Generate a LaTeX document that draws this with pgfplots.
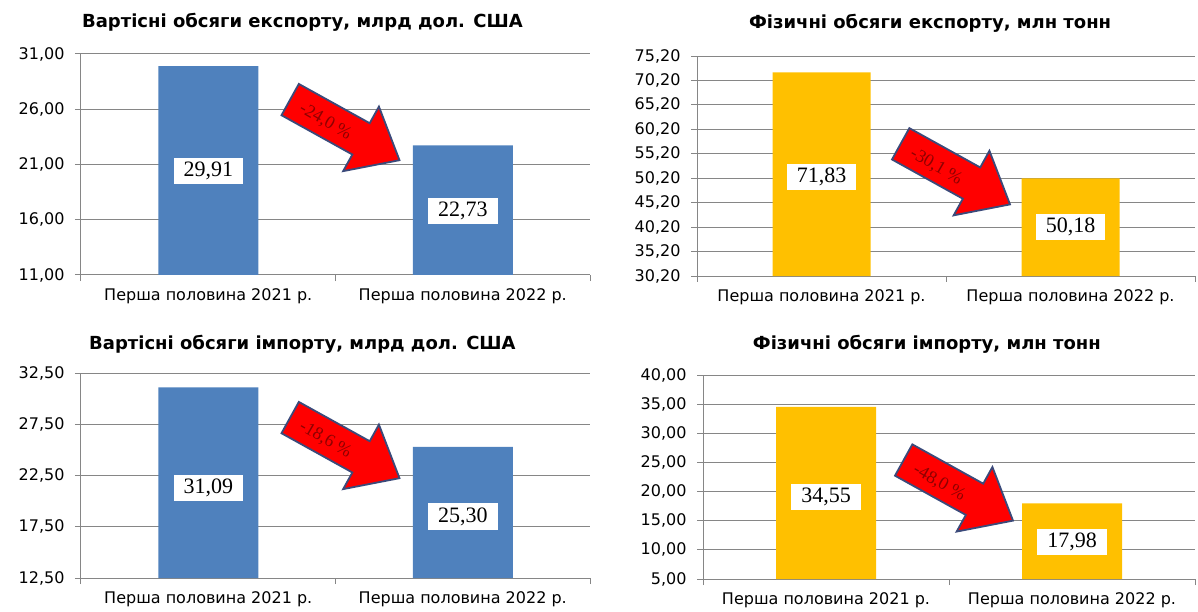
\documentclass[border=0pt]{standalone}
\usepackage{pgfplots}
\pgfplotsset{compat=1.18}
\usetikzlibrary{shapes.arrows}
\usepackage{fontspec}
\setmainfont{DejaVu Sans}
\newfontfamily\tnr{Liberation Serif}
\definecolor{barblue}{HTML}{4F81BD}
\definecolor{bargold}{HTML}{FFC000}
\definecolor{gridg}{HTML}{868686}
\definecolor{arrowedge}{HTML}{3B4A7A}
\definecolor{arrowtext}{HTML}{8E0000}

\pgfplotsset{
  panel/.style={
    scale only axis, anchor=south west,
    xmin=-0.5, xmax=1.5,
    xtick={-0.5,0.5,1.5},
    x tick label as interval,
    xticklabels={Перша половина 2021 р., Перша половина 2022 р.},
    tick align=outside,
    major tick length=6pt,
    axis x line*=bottom, axis y line*=left,
    axis line style={gridg, line width=1pt, -},
    every tick/.style={gridg, line width=1pt},
    ymajorgrids, major grid style={gridg, line width=1pt},
    ybar, bar width=100pt,
    clip=false,
    xticklabel style={font=\fontsize{16}{18}\selectfont, text=black, yshift=-4pt},
    yticklabel style={font=\fontsize{16}{18}\selectfont, text=black,
      /pgf/number format/fixed, /pgf/number format/fixed zerofill,
      /pgf/number format/precision=2, /pgf/number format/use comma,
      /pgf/number format/assume math mode=true, xshift=-7pt},
    title style={font=\bfseries\fontsize{18}{20}\selectfont, anchor=center},
  },
}
\tikzset{
  arr/.style={single arrow, draw=arrowedge, line width=1.8pt, fill=red,
    minimum height=125pt, inner xsep=0pt, inner ysep=17pt,
    single arrow head extend=19pt, single arrow tip angle=80},
  arrlabel/.style={text=arrowtext, font=\tnr\fontsize{18}{20}\selectfont},
  valbox/.style={fill=white, text=black, font=\tnr\fontsize{22}{24}\selectfont, inner xsep=10pt, inner ysep=4pt},
}

\begin{document}
\begin{tikzpicture}
\useasboundingbox (0pt,0pt) rectangle (1198pt,611pt);

% Top-left
\begin{axis}[panel, at={(81pt,336pt)}, width=509pt, height=221pt,
  ymin=11, ymax=31, ytick={11,16,21,26,31},
  title={Вартісні обсяги експорту, млрд дол. США},
  title style={at={(0.435,1)}, yshift=26pt}]
\addplot[fill=barblue, draw=none] coordinates {(0,29.91) (1,22.73)};
\node[arr, rotate=-29] at (axis cs:0.5,24.6) {};
\node[arrlabel, rotate=-30] at (axis cs:0.46,24.9) {-24,0 \%};
\node[valbox] at (axis cs:0,20.45) {29,91};
\node[valbox] at (axis cs:1,16.8) {22,73};
\end{axis}

% Top-right
\begin{axis}[panel, at={(697pt,335pt)}, width=498pt, height=220pt, bar width=98pt,
  ymin=30.2, ymax=75.2, ytick={30.2,35.2,40.2,45.2,50.2,55.2,60.2,65.2,70.2,75.2},
  title={Фізичні обсяги експорту, млн тонн},
  title style={at={(0.468,1)}, yshift=27pt}]
\addplot[fill=bargold, draw=none] coordinates {(0,71.83) (1,50.18)};
\node[arr, rotate=-29] at (axis cs:0.5,52.1) {};
\node[arrlabel, rotate=-30] at (axis cs:0.46,52.6) {-30,1 \%};
\node[valbox] at (axis cs:0,50.45) {71,83};
\node[valbox] at (axis cs:1,40.2) {50,18};
\end{axis}

% Bottom-left
\begin{axis}[panel, at={(81pt,33pt)}, width=509pt, height=205pt,
  ymin=12.5, ymax=32.5, ytick={12.5,17.5,22.5,27.5,32.5},
  title={Вартісні обсяги імпорту, млрд дол. США},
  title style={at={(0.435,1)}, yshift=23pt}]
\addplot[fill=barblue, draw=none] coordinates {(0,31.09) (1,25.30)};
\node[arr, rotate=-29] at (axis cs:0.5,25.7) {};
\node[arrlabel, rotate=-30] at (axis cs:0.46,26.0) {-18,6 \%};
\node[valbox] at (axis cs:0,21.3) {31,09};
\node[valbox] at (axis cs:1,18.5) {25,30};
\end{axis}

% Bottom-right
\begin{axis}[panel, at={(703pt,32pt)}, width=492pt, height=204pt,
  ymin=5, ymax=40, ytick={5,10,15,20,25,30,35,40},
  title={Фізичні обсяги імпорту, млн тонн},
  title style={at={(0.455,1)}, yshift=25pt}]
\addplot[fill=bargold, draw=none] coordinates {(0,34.55) (1,17.98)};
\node[arr, rotate=-29] at (axis cs:0.5,21.1) {};
\node[arrlabel, rotate=-30] at (axis cs:0.46,21.5) {-48,0 \%};
\node[valbox] at (axis cs:0,19.07) {34,55};
\node[valbox] at (axis cs:1,11.35) {17,98};
\end{axis}
\end{tikzpicture}
\end{document}
